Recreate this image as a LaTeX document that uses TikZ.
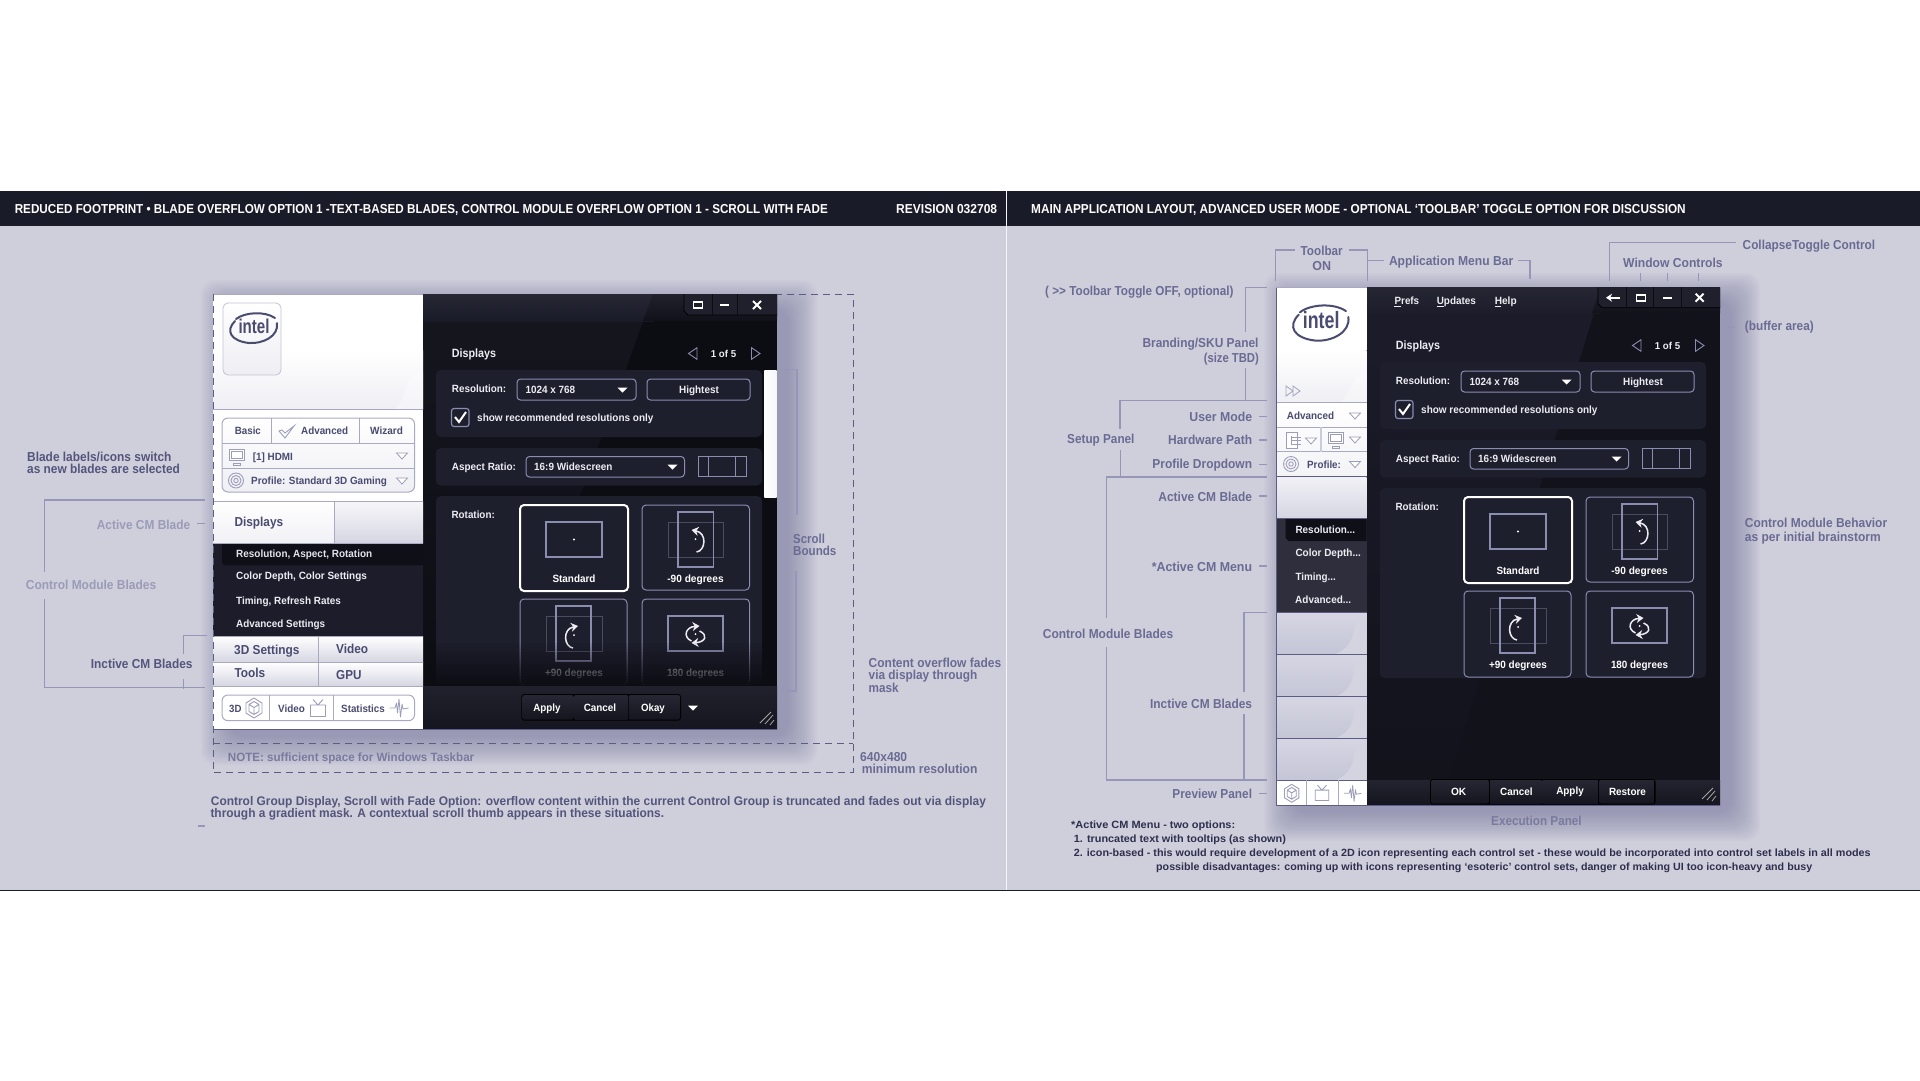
\documentclass[tikz,border=0pt]{standalone}
\usepackage{fontspec}
\usepackage{graphicx}
\setmainfont{Liberation Sans}
\usetikzlibrary{arrows.meta}
\definecolor{bg}{HTML}{CFCFDC}
\definecolor{band}{HTML}{1A1B28}
\definecolor{ann}{HTML}{6A6B93}
\definecolor{anndk}{HTML}{54557C}
\definecolor{annlt}{HTML}{9A9BB8}
\definecolor{lead}{HTML}{9596B8}
\definecolor{dashc}{HTML}{5C5D85}
\definecolor{uitx}{HTML}{4A4B70}
\definecolor{uiln}{HTML}{A9AAC2}
\definecolor{icon}{HTML}{9C9DB8}
\definecolor{groupc}{HTML}{1E1F2D}
\definecolor{ctl}{HTML}{8A8CB0}
\definecolor{lighttx}{HTML}{ECECF2}
\definecolor{notec}{HTML}{2E2F4E}
\definecolor{shad}{HTML}{6C6D96}
\definecolor{deep}{HTML}{0C0C13}
\definecolor{barhi}{HTML}{262733}
\definecolor{barlo}{HTML}{14151E}
\definecolor{ctlblk}{HTML}{1F202C}
\definecolor{bladetop}{HTML}{D6D6E3}
\definecolor{bladebot}{HTML}{C4C5D6}
\definecolor{bladehi}{HTML}{D4D4E1}
\definecolor{bodyl}{HTML}{16161F}
\definecolor{bodyr}{HTML}{12121B}
\definecolor{menuc}{HTML}{1C1C2B}
\definecolor{menusel}{HTML}{0F0F18}
\newsavebox\txtbox
\newcounter{tc}
\newcommand{\fw}[2]{\sbox\txtbox{#2}\pgfmathsetmacro\fwr{#1/\the\wd\txtbox}\scalebox{\fwr}[1]{\usebox\txtbox}}
\newcommand{\Lb}[7]{\stepcounter{tc}\node[anchor=#1,inner sep=0pt,text=#6,font=\fontsize{#5}{#5}\selectfont\bfseries] (t\arabic{tc}) at (#2,{#3+0.35*#5}) {\fw{#4}{#7}};}
\newcommand{\tridown}[2]{\draw[icon,line width=.8pt,fill=white] (#1-5.5,#2-3) -- (#1+5.5,#2-3) -- (#1,#2+3) -- cycle;}
\newcommand{\ddarrow}[2]{\fill[white] (#1-5,#2-2.5) -- (#1+5,#2-2.5) -- (#1,#2+2.5) -- cycle;}
\newcommand{\ringicon}[2]{\draw[icon,line width=.9pt] (#1,#2) circle[radius=7.5pt] (#1,#2) circle[radius=5pt] (#1,#2) circle[radius=2.2pt];}
\newcommand{\monicon}[2]{\draw[icon,line width=.9pt,fill=white] (#1-7.5,#2-8) rectangle (#1+7.5,#2+3);\draw[icon,line width=.9pt] (#1-5.5,#2-6) rectangle (#1+5.5,#2+1) (#1-3.5,#2+6) rectangle (#1+3.5,#2+8);}
\newcommand{\cubeicon}[2]{\draw[icon,line width=.9pt,line join=round] (#1,#2-10) -- (#1+8,#2-5) -- (#1+8,#2+5) -- (#1,#2+10) -- (#1-8,#2+5) -- (#1-8,#2-5) -- cycle (#1,#2-6.5) -- (#1+5,#2-3.5) -- (#1+5,#2+3.5) -- (#1,#2+6.5) -- (#1-5,#2+3.5) -- (#1-5,#2-3.5) -- cycle (#1-5,#2-3.5) -- (#1,#2-.5) -- (#1+5,#2-3.5) (#1,#2-.5) -- (#1,#2+6.5);}
\newcommand{\tvicon}[2]{\draw[icon,line width=.9pt,line join=round] (#1-7.5,#2-3.5) rectangle (#1+7.5,#2+8) (#1-5,#2-9) -- (#1,#2-3.5) -- (#1+5,#2-9);}
\newcommand{\waveicon}[2]{\draw[icon,line width=.8pt,line join=round] (#1-9.5,#2) -- (#1-4,#2) -- (#1-2.5,#2-5) -- (#1-1.5,#2+5) -- (#1,#2-9) -- (#1+1.5,#2+9) -- (#1+3,#2-4) -- (#1+4,#2+1) -- (#1+9.5,#2);}
\tikzset{
  groupbox/.style={fill=groupc,rounded corners=5pt},
  ctlbox/.style={draw=ctl,line width=1pt,rounded corners=3.5pt},
  tile/.style={draw=#1,line width=1pt,rounded corners=4pt},
  annline/.style={draw=lead,line width=1.3pt},
  dashline/.style={draw=dashc,line width=1pt,dash pattern=on 7pt off 5pt},
  swirl/.style={draw=lighttx,line width=1.5pt,-{Stealth[length=7pt,width=9pt]}},
}
\newcommand{\rotarrow}[2]{\begin{scope}[shift={(#1,#2)}]\draw[swirl] (1,13) .. controls (10,12) and (12,-6) .. (-4,-9);\fill[white] (0,0) circle[radius=1pt];\end{scope}}
\newcommand{\rotarrowm}[2]{\begin{scope}[shift={(#1,#2)},xscale=-1]\draw[swirl] (1,13) .. controls (10,12) and (12,-6) .. (-4,-9);\fill[white] (0,0) circle[radius=1pt];\end{scope}}
\newcommand{\rothalf}[2]{\begin{scope}[shift={(#1,#2)}]\draw[swirl] (-4,7) .. controls (-13,3) and (-10,-7) .. (4,-8);\draw[swirl] (4,-3) .. controls (13,1) and (10,8) .. (-4,9);\fill[white] (0,0) circle[radius=1pt];\end{scope}}
\newcommand{\intellogo}[3]{\begin{scope}[shift={(#1,#2)},scale=#3]
 \draw[uitx,line width=2pt,line cap=round] (-17,-8) .. controls (-8,-15) and (12,-16) .. (22,-9);
 \draw[uitx,line width=2pt,line cap=round] (-18,-6) .. controls (-28,4) and (-22,14) .. (-4,16) .. controls (10,17) and (26,9) .. (24,-4);
 \end{scope}
 \pgfmathsetmacro\logow{#3*31}\pgfmathsetmacro\logox{#1+#3}\pgfmathsetmacro\logoy{#2+6*#3}\pgfmathsetmacro\logof{#3*20}
 \stepcounter{tc}\node[inner sep=0pt,text=uitx,font=\fontsize{\logof}{\logof}\selectfont\bfseries,anchor=base] (t\arabic{tc}) at (\logox,\logoy) {\fw{\logow}{intel}};}
\newcommand{\grip}[2]{\draw[gray!70,line width=.8pt] (#1,#2+11) -- (#1+11,#2) (#1+5,#2+12) -- (#1+13,#2+3) (#1+10,#2+13) -- (#1+14,#2+8);}
\newcommand{\bladeface}[2]{\shade[top color=bladetop,bottom color=bladebot] (1276,#1) rectangle (1366.7,#2);
 \fill[bladehi] (1366.7,#1+7) -- (1355,#1+7) .. controls (1355,#1+24) and (1350,#2-6) .. (1336,#2) -- (1366.7,#2) -- cycle;}
% content shared by both windows: x offset, y offset, colour of the two lower tile labels
\newcommand{\winContent}[3]{\begin{scope}[shift={(#1,#2)}]
 \Lb{base west}{451.7}{353}{44.3}{12}{lighttx}{Displays}
 \Lb{base west}{710.7}{353.7}{25.3}{10}{lighttx}{1 of 5}
 \draw[ctl,line width=.9pt] (697,347.7) -- (688.5,353.5) -- (697,359.3) -- cycle (751.5,347.7) -- (760,353.5) -- (751.5,359.3) -- cycle;
 \fill[groupbox] (436,370) rectangle (762,437);
 \fill[groupbox] (436,448) rectangle (762,485.5);
 \fill[groupbox] (436,496) rectangle (762,686);
 \Lb{base west}{451.7}{388.7}{54.3}{10.5}{lighttx}{Resolution:}
 \draw[ctlbox] (517,379) rectangle (636,400);
 \Lb{base west}{525.3}{389.7}{49.7}{10.5}{lighttx}{1024 x 768}
 \ddarrow{622.5}{390}
 \draw[ctlbox] (647,379) rectangle (750,400);
 \Lb{base}{699}{389.7}{39.7}{10.5}{lighttx}{Hightest}
 \draw[draw=ctl,line width=1.2pt,rounded corners=2.5pt] (451.5,408.5) rectangle (469,426.5);
 \draw[white,line width=2pt] (455,417) -- (459,422) -- (466,412);
 \Lb{base west}{477}{417.7}{176.3}{10.5}{lighttx}{show recommended resolutions only}
 \Lb{base west}{451.7}{466.7}{64}{10.5}{lighttx}{Aspect Ratio:}
 \draw[ctlbox] (526,456.5) rectangle (684.5,477);
 \Lb{base west}{534}{466.7}{78.3}{10.5}{lighttx}{16:9 Widescreen}
 \ddarrow{672.5}{467}
 \draw[ctl,line width=1pt] (698,456) rectangle (746,476) (708.5,456) -- (708.5,476) (735.5,456) -- (735.5,476);
 \Lb{base west}{451.4}{514.7}{43.2}{10.5}{lighttx}{Rotation:}
 \draw[white,line width=2pt,rounded corners=4pt] (520,505) rectangle (628,591);
 \draw[ctl,line width=1.2pt] (546,522) rectangle (602,557);
 \fill[white] (574,539.5) circle[radius=1.1pt];
 \Lb{base}{574}{578.7}{42.9}{10.5}{white}{Standard}
 \draw[tile=ctl] (642,505) rectangle (749.5,590);
 \draw[ctl!40!groupc,line width=1pt] (668,522) rectangle (723.5,557);
 \draw[ctl,line width=1.2pt] (678,512) rectangle (713.5,567);
 \rotarrow{695.5}{539}
 \Lb{base}{695.5}{579}{56.3}{10.5}{white}{-90 degrees}
 \draw[tile=ctl] (520,599) rectangle (627,685);
 \draw[ctl!40!groupc,line width=1pt] (546,616) rectangle (602,651);
 \draw[ctl,line width=1.2pt] (556,606) rectangle (591,661);
 \rotarrowm{574}{635}
 \Lb{base}{574}{672.7}{57.8}{10.5}{#3}{+90 degrees}
 \draw[tile=ctl] (642,599) rectangle (749.5,685);
 \draw[ctl,line width=1.2pt] (668,616) rectangle (723,651);
 \rothalf{695.5}{634}
 \Lb{base}{695.5}{672.7}{57}{10.5}{#3}{180 degrees}
\end{scope}}
\begin{document}
\begin{tikzpicture}[x=1pt,y=-1pt]
\useasboundingbox (0,0) rectangle (1920,1080);
\fill[white] (0,0) rectangle (1920,1080);
% backdrop
\fill[bg] (0,226) rectangle (1920,890);
\fill[band] (0,191) rectangle (1920,226);
\draw[band,line width=1pt] (0,890.5) -- (1920,890.5);
% window shadows
\foreach \r in {28,26,...,0} {
 \fill[shad,fill opacity=.042,rounded corners=14pt] (213+16-\r,294+14-\r) rectangle (777+12+\r,729+8+\r);
 \fill[shad,fill opacity=.042,rounded corners=14pt] (1276+16-\r,287+14-\r) rectangle (1720+12+\r,805+8+\r);
}
\draw[white!80!bg,line width=1pt] (1006.8,191) -- (1006.8,890);
\Lb{base west}{14.6}{209}{813}{13}{white!95!bg}{REDUCED FOOTPRINT • BLADE OVERFLOW OPTION 1 -TEXT-BASED BLADES, CONTROL MODULE OVERFLOW OPTION 1 - SCROLL WITH FADE}
\Lb{base west}{896}{209}{101}{13}{white!95!bg}{REVISION 032708}
\Lb{base west}{1031}{209}{654.5}{13}{white!95!bg}{MAIN APPLICATION LAYOUT, ADVANCED USER MODE - OPTIONAL ‘TOOLBAR’ TOGGLE OPTION FOR DISCUSSION}
%%%%%%%%%%%%%% LEFT WINDOW: dark side
\fill[deep] (423,294) rectangle (777,729);
\shade[top color=bodyl,bottom color=deep] (423,294) -- (653,294) -- (496,729) -- (423,729) -- cycle;
\shade[top color=barhi,bottom color=band] (423,294) rectangle (653,321);
\shade[top color=barhi!80!deep,bottom color=deep!70!band] (653,294) -- (777,294) -- (777,321) -- (643,321) -- cycle;
\winContent{0}{0}{lighttx}
% fade of overflowing content
\foreach \i in {0,...,15} {
 \pgfmathsetmacro\o{\i/15}
 \fill[deep,fill opacity=\o] (424,640+3*\i) rectangle (763,643+3*\i);
}
% scroll thumb
\shade[left color=white,right color=white!92!ctl] (764.4,370) rectangle (776.7,497.5);
% title controls
\fill[ctlblk] (684,294) -- (777,294) -- (777,315) -- (688,315) -- (684,311) -- cycle;
\draw[black,line width=.9pt] (684,294) -- (684,311) -- (688,315) -- (777,315);
\draw[black!60!ctlblk,line width=.8pt] (712,294) -- (712,315) (737,294) -- (737,315);
\draw[white,line width=1.6pt] (693.5,302) rectangle (702.5,308);
\draw[white,line width=1.8pt] (720,305) -- (729,305);
\draw[white,line width=1.9pt] (753,301) -- (761,309) (761,301) -- (753,309);
% bottom bar
\shade[top color=barhi!80!deep,bottom color=barlo] (423,686.5) rectangle (777,729);
\fill[black,rounded corners=3pt] (521.4,694) rectangle (681,720.7);
\shade[top color=barhi,bottom color=barlo,rounded corners=2pt] (522.5,695) rectangle (573.5,719.7);
\shade[top color=barhi,bottom color=barlo] (574.5,695) rectangle (627.5,719.7);
\shade[top color=barhi,bottom color=barlo,rounded corners=2pt] (628.5,695) rectangle (680,719.7);
\Lb{base}{547}{708}{27.2}{10.5}{white}{Apply}
\Lb{base}{600}{708}{32.5}{10.5}{white}{Cancel}
\Lb{base}{653}{708}{23.7}{10.5}{white}{Okay}
\ddarrow{693}{708}
\grip{760}{712}
%%%%%%%%%%%%%% LEFT WINDOW: white side
\fill[white] (213,294) rectangle (423,350);
\shade[top color=white,bottom color=white!86!ctl] (213,350) rectangle (423,409);
\fill[white,opacity=.35] (423,372) .. controls (400,380) and (410,395) .. (395,409) -- (423,409) -- cycle;
\draw[uiln,line width=1pt] (213,294) -- (423,294);
\draw[uiln,line width=1pt] (213,409) -- (423,409);
\shade[top color=white,bottom color=white!85!ctl,rounded corners=5pt,draw=uiln!70!white,line width=.8pt] (223,303) rectangle (281,375);
\intellogo{253}{327}{1}
\fill[white] (213,409.5) rectangle (423,501);
\shade[top color=white,bottom color=white!86!ctl,rounded corners=6pt,draw=uiln,line width=1pt] (222,418) rectangle (414.5,492);
\draw[uiln,line width=1pt] (222,443) -- (414.5,443) (222,468) -- (414.5,468) (271.3,418) -- (271.3,443) (359.3,418) -- (359.3,443);
\Lb{base west}{234.7}{430.5}{26}{10.5}{uitx}{Basic}
\draw[icon,line width=.9pt] (279,431) -- (285,438) -- (294,426) -- (285,433) -- (282,430) -- cycle;
\Lb{base west}{301}{430.5}{47}{10.5}{uitx}{Advanced}
\Lb{base west}{370}{430.5}{32.7}{10.5}{uitx}{Wizard}
\monicon{237}{457}
\Lb{base west}{252.7}{456.7}{40}{10.5}{uitx}{[1] HDMI}
\tridown{402}{456}
\ringicon{236}{480.5}
\Lb{base west}{251}{480.7}{135.7}{10.5}{uitx}{Profile: Standard 3D Gaming}
\tridown{402}{481}
% blades
\shade[top color=white,bottom color=white!88!ctl] (213,501) rectangle (334,543);
\shade[top color=white!80!bladetop,bottom color=bladetop] (334,501) rectangle (423,543);
\draw[uiln,line width=1pt] (213,501) -- (423,501) (334,501) -- (334,543);
\draw[uiln,line width=1pt] (213,543) -- (423,543);
\Lb{base west}{234.3}{521.7}{48.7}{13}{uitx}{Displays}
% menu
\fill[menuc] (213,543.5) rectangle (423,636);
\fill[menusel,rounded corners=3pt] (222,540) rectangle (423,565);
\fill[bodyl] (400,543.5) rectangle (423,565);
\fill[menusel] (222,543.5) -- (423,543.5) -- (423,565) -- (225,565) -- (222,562) -- cycle;
\fill[white!88!ctl] (213,540) rectangle (334,543);
\fill[bladetop] (334,540) rectangle (423,543);
\draw[uiln,line width=1pt] (213,543) -- (423,543) (334,540) -- (334,543);
\Lb{base west}{236}{553.7}{136}{10.5}{lighttx!90!ctl}{Resolution, Aspect, Rotation}
\Lb{base west}{236}{575.7}{130.7}{10.5}{lighttx}{Color Depth, Color Settings}
\Lb{base west}{236}{600.7}{104.7}{10.5}{lighttx}{Timing, Refresh Rates}
\Lb{base west}{236}{623.7}{89}{10.5}{lighttx}{Advanced Settings}
\shade[top color=white,bottom color=bladetop] (213,636) rectangle (423,662);
\shade[top color=white,bottom color=bladetop] (213,662) rectangle (423,686);
\draw[uiln,line width=1pt] (213,636) -- (423,636) (213,662) -- (423,662) (213,686) -- (423,686) (318.3,636) -- (318.3,686);
\Lb{base west}{234}{649.5}{65.3}{13}{uitx}{3D Settings}
\Lb{base west}{336}{648.7}{32}{13}{uitx}{Video}
\Lb{base west}{234.3}{672.7}{30.7}{13}{uitx}{Tools}
\Lb{base west}{336}{674.7}{25.3}{13}{uitx}{GPU}
% preview
\fill[white] (213,686.5) rectangle (423,729);
\draw[uiln,line width=1pt,rounded corners=6pt] (222,695) rectangle (414.5,720.7);
\draw[uiln,line width=1pt] (269.7,695) -- (269.7,720.7) (333.5,695) -- (333.5,720.7);
\Lb{base west}{229}{708.7}{12.3}{10.5}{uitx}{3D}
\cubeicon{254}{708}
\Lb{base west}{278}{708.7}{26.7}{10.5}{uitx}{Video}
\tvicon{318}{708.5}
\Lb{base west}{341}{708.7}{43.7}{10.5}{uitx}{Statistics}
\waveicon{399}{708}
\draw[dashc,line width=1pt] (213,729) -- (777,729);
%%%%%%%%%%%%%% LEFT ANNOTATIONS
\draw[dashline] (213,294) -- (213,772.7) -- (853,772.7) -- (853,294) -- (777,294);
\draw[dashline] (213,743) -- (853,743);
\draw[annline] (205,500) -- (44.3,500) -- (44.3,571.7);
\draw[annline] (44.3,599) -- (44.3,687.7) -- (205,687.7);
\draw[annline] (197,523.7) -- (205,523.7);
\draw[annline] (207,635.3) -- (183.7,635.3) -- (183.7,654);
\draw[annline] (183.7,679.3) -- (183.7,689);
\draw[annline] (783,369.5) -- (797,369.5) -- (797,515);
\draw[annline] (796,571) -- (796,691) -- (781.6,691);
\draw[annline] (198,826) -- (205,826);
\Lb{base west}{27}{457}{144.3}{13}{anndk}{Blade labels/icons switch}
\Lb{base west}{27}{469}{152.7}{13}{anndk}{as new blades are selected}
\Lb{base west}{96.7}{524.7}{93.3}{13}{annlt}{Active CM Blade}
\Lb{base west}{25.7}{584.7}{130.3}{13}{annlt}{Control Module Blades}
\Lb{base west}{90.7}{663.7}{101.6}{13}{anndk}{Inctive CM Blades}
\Lb{base west}{793}{539}{31.8}{13}{ann}{Scroll}
\Lb{base west}{793}{551}{43.2}{13}{ann}{Bounds}
\Lb{base west}{868.5}{663}{132.5}{13}{ann}{Content overflow fades}
\Lb{base west}{868.5}{675}{108.7}{13}{ann}{via display through}
\Lb{base west}{868.5}{688}{30}{13}{ann}{mask}
\Lb{base west}{860}{756.7}{47}{13}{ann}{640x480}
\Lb{base west}{861.6}{769}{115.7}{13}{ann}{minimum resolution}
\Lb{base west}{227.7}{757.7}{246.3}{12}{ann!85!bg}{NOTE: sufficient space for Windows Taskbar}
\Lb{base west}{210.7}{801}{775}{12.5}{anndk}{Control Group Display, Scroll with Fade Option: overflow content within the current Control Group is truncated and fades out via display}
\Lb{base west}{210.3}{813}{453.7}{12.5}{anndk}{through a gradient mask. A contextual scroll thumb appears in these situations.}
%%%%%%%%%%%%%% RIGHT WINDOW: dark side
\fill[bodyr] (1366.7,287.3) rectangle (1720,805);
\shade[top color=menuc,bottom color=bodyr] (1366.7,287.3) -- (1602,287.3) -- (1441,805) -- (1366.7,805) -- cycle;
\shade[top color=barhi,bottom color=menuc] (1366.7,287.3) rectangle (1600,313.3);
\shade[top color=barhi!80!bodyr,bottom color=bodyr] (1600,287.3) -- (1720,287.3) -- (1720,313.3) -- (1592,313.3) -- cycle;
\winContent{944}{-8}{white}
% title controls
\fill[ctlblk] (1598,287.3) -- (1720,287.3) -- (1720,307.7) -- (1602,307.7) -- (1598,303.7) -- cycle;
\draw[black,line width=.9pt] (1598,287.3) -- (1598,303.7) -- (1602,307.7) -- (1720,307.7);
\draw[black!60!ctlblk,line width=.8pt] (1626.7,287.3) -- (1626.7,307.7) (1653.7,287.3) -- (1653.7,307.7) (1681,287.3) -- (1681,307.7);
\draw[white,line width=1.6pt,-{Stealth[length=6pt,width=8pt]}] (1620,297.7) -- (1606,297.7);
\draw[white,line width=1.6pt] (1636.3,294.7) rectangle (1645.3,300.7);
\draw[white,line width=1.8pt] (1663,297.7) -- (1672,297.7);
\draw[white,line width=1.9pt] (1695.6,293.7) -- (1703.6,301.7) (1703.6,293.7) -- (1695.6,301.7);
\Lb{base west}{1394.4}{300.7}{24.6}{10.5}{lighttx}{Prefs}
\Lb{base west}{1436.6}{300.7}{39.2}{10.5}{lighttx}{Updates}
\Lb{base west}{1494.6}{300.7}{21.9}{10.5}{lighttx}{Help}
\draw[lighttx,line width=.8pt] (1394.4,306.7) -- (1401,306.7) (1436.6,306.7) -- (1444,306.7) (1494.6,306.7) -- (1501,306.7);
% bottom bar
\shade[top color=barhi!80!barlo,bottom color=barlo] (1366.7,780) rectangle (1720,805);
\fill[black,rounded corners=3pt] (1430,779) rectangle (1655.6,804.5);
\shade[top color=barhi,bottom color=barlo,rounded corners=2pt] (1431,780) rectangle (1489,803.5);
\shade[top color=barhi,bottom color=barlo] (1490,780) rectangle (1541.5,803.5);
\shade[top color=barhi,bottom color=barlo] (1542.5,780) rectangle (1598,803.5);
\shade[top color=barhi,bottom color=barlo,rounded corners=2pt] (1599,780) rectangle (1654.6,803.5);
\Lb{base}{1458.6}{791.7}{15.2}{10.5}{white}{OK}
\Lb{base}{1516.4}{791.7}{32.5}{10.5}{white}{Cancel}
\Lb{base}{1570}{790.7}{27.5}{10.5}{white}{Apply}
\Lb{base}{1627.5}{791.7}{37}{10.5}{white}{Restore}
\grip{1702}{788}
%%%%%%%%%%%%%% RIGHT WINDOW: white side
\fill[white] (1276,287.3) rectangle (1366.7,350);
\shade[top color=white,bottom color=white!86!ctl] (1276,350) rectangle (1366.7,402.3);
\fill[white,opacity=.35] (1366.7,370) .. controls (1350,375) and (1355,390) .. (1340,402.3) -- (1366.7,402.3) -- cycle;
\intellogo{1320}{321.7}{1.18}
\draw[uiln,line width=.9pt] (1286,386) -- (1293,391) -- (1286,396) -- cycle (1293,386) -- (1300,391) -- (1293,396) -- cycle;
\shade[top color=white,bottom color=white!90!ctl] (1276,402.3) rectangle (1366.7,476.7);
\draw[uiln,line width=1pt] (1276,402.3) -- (1366.7,402.3) (1276,427.3) -- (1366.7,427.3) (1276,451.7) -- (1366.7,451.7);
\draw[uiln!60!white,line width=1.2pt] (1321,427.3) -- (1321,451.7);
\Lb{base west}{1286.7}{415.7}{47.3}{10.5}{uitx}{Advanced}
\tridown{1355}{416}
\draw[icon,line width=1pt,fill=white] (1286,432) rectangle (1297,448);
\draw[icon,line width=1pt] (1291,436) -- (1291,444) (1291,437) -- (1301,437) (1291,440.5) -- (1301,440.5) (1291,444) -- (1301,444);
\tridown{1311}{441}
\monicon{1336}{440}
\tridown{1355}{440}
\ringicon{1291}{464}
\Lb{base west}{1307}{464.7}{33.7}{10.5}{uitx}{Profile:}
\tridown{1355}{464.5}
\shade[top color=white!65!bladetop,bottom color=bladetop] (1276,477) rectangle (1366.7,518.3);
\fill[menuc!92!white] (1276,518.7) rectangle (1366.7,612.3);
\fill[menusel] (1285.7,518.7) -- (1366.7,518.7) -- (1366.7,541) -- (1288.7,541) -- (1285.7,538) -- cycle;
\Lb{base west}{1295.3}{529.7}{59.7}{10.5}{lighttx}{Resolution...}
\Lb{base west}{1295.3}{552.7}{65.3}{10.5}{lighttx}{Color Depth...}
\Lb{base west}{1295.3}{576.7}{40.3}{10.5}{lighttx}{Timing...}
\Lb{base west}{1295}{599.7}{56}{10.5}{lighttx}{Advanced...}
\bladeface{612.3}{654}
\bladeface{654}{696.7}
\bladeface{696.7}{738.3}
\bladeface{738.3}{780.3}
\fill[white] (1276,780.3) rectangle (1366.7,805);
\draw[dashc,line width=1pt] (1276,476.7) -- (1366.7,476.7) (1276,518.5) -- (1366.7,518.5) (1276,612.3) -- (1366.7,612.3) (1276,654) -- (1366.7,654) (1276,696.7) -- (1366.7,696.7) (1276,738.3) -- (1366.7,738.3) (1276,780.3) -- (1366.7,780.3);
\draw[uiln,line width=1pt] (1306.3,780.3) -- (1306.3,805) (1338.3,780.3) -- (1338.3,805);
\begin{scope}[shift={(1291.7,793.3)},scale=.9]\cubeicon{0}{0}\end{scope}
\begin{scope}[shift={(1322,793.3)},scale=.9]\tvicon{0}{0}\end{scope}
\begin{scope}[shift={(1352.7,793.3)},scale=.9]\waveicon{0}{0}\end{scope}
\draw[dashc,line width=1pt] (1276,287.3) -- (1276,805) -- (1720,805);
\draw[uiln,line width=1pt] (1276,287.3) -- (1366.7,287.3);
%%%%%%%%%%%%%% RIGHT ANNOTATIONS
\draw[annline] (1275.7,280.7) -- (1275.7,250) -- (1295,250);
\draw[annline] (1349,250) -- (1367.7,250) -- (1367.7,280.7);
\draw[annline] (1367.7,260.7) -- (1383.6,260.7);
\draw[annline] (1518,260.7) -- (1530,260.7) -- (1530,279);
\draw[annline] (1609.7,280.7) -- (1609.7,242.7) -- (1735.9,242.7);
\draw[annline] (1640.4,273) -- (1640.4,280.7) (1667.4,273) -- (1667.4,280.7) (1698.5,273) -- (1698.5,280.7);
\draw[annline] (1727,327) -- (1735,327);
\draw[annline] (1267,287.3) -- (1245.7,287.3) -- (1245.7,332);
\draw[annline] (1245.7,368.3) -- (1245.7,400.7);
\draw[annline] (1267,400.7) -- (1120,400.7) -- (1120,429.3);
\draw[annline] (1120.7,450) -- (1120.7,477);
\draw[annline] (1267,477) -- (1106.7,477) -- (1106.7,618.3);
\draw[annline] (1106.7,647.3) -- (1106.7,780) -- (1267,780);
\draw[annline] (1267,612.3) -- (1244,612.3) -- (1244,691.7);
\draw[annline] (1244,714) -- (1244,780);
\draw[annline] (1259.3,416.7) -- (1267,416.7) (1259.3,440) -- (1267,440) (1259.3,464.3) -- (1267,464.3) (1259.3,496) -- (1267,496) (1259.3,566) -- (1267,566) (1259.3,793.7) -- (1267,793.7);
\Lb{base}{1321.7}{250.7}{42}{13}{ann}{Toolbar}
\Lb{base}{1321.7}{265.7}{18.7}{13}{ann}{ON}
\Lb{base west}{1388.8}{260.7}{124.2}{13}{ann}{Application Menu Bar}
\Lb{base west}{1742.5}{244.7}{132.5}{13}{ann}{CollapseToggle Control}
\Lb{base west}{1623}{262.7}{99.5}{13}{ann}{Window Controls}
\Lb{base west}{1744.7}{326}{68.9}{13}{ann}{(buffer area)}
\Lb{base west}{1744.7}{522.7}{142.3}{13}{ann}{Control Module Behavior}
\Lb{base west}{1744.7}{536.7}{135.8}{13}{ann}{as per initial brainstorm}
\Lb{base west}{1045}{290.7}{188.3}{13}{ann}{( >{}> Toolbar Toggle OFF, optional)}
\Lb{base east}{1258.7}{342.7}{116}{13}{ann}{Branding/SKU Panel}
\Lb{base east}{1259}{357.7}{55}{13}{ann}{(size TBD)}
\Lb{base east}{1252.3}{416.7}{62.7}{13}{ann}{User Mode}
\Lb{base east}{1252.3}{440}{84}{13}{ann}{Hardware Path}
\Lb{base east}{1252.3}{463.7}{99.7}{13}{ann}{Profile Dropdown}
\Lb{base east}{1252.3}{496.7}{93.7}{13}{ann}{Active CM Blade}
\Lb{base east}{1252.3}{566.7}{100.3}{13}{ann}{*Active CM Menu}
\Lb{base east}{1252.3}{703.7}{102}{13}{ann}{Inctive CM Blades}
\Lb{base east}{1252.3}{793.7}{79.7}{13}{ann}{Preview Panel}
\Lb{base west}{1067}{438.7}{67.3}{13}{ann}{Setup Panel}
\Lb{base west}{1042.7}{633.7}{130.3}{13}{ann}{Control Module Blades}
\Lb{base west}{1491}{821}{90.5}{13}{ann!85!bg}{Execution Panel}
\Lb{base west}{1071}{825}{164}{10.5}{notec}{*Active CM Menu - two options:}
\Lb{base west}{1073.7}{839.3}{212}{10.5}{notec}{1. truncated text with tooltips (as shown)}
\Lb{base west}{1073.7}{853.3}{796.8}{10.5}{notec}{2. icon-based - this would require development of a 2D icon representing each control set - these would be incorporated into control set labels in all modes}
\Lb{base west}{1156}{867.3}{656}{10.5}{notec}{possible disadvantages: coming up with icons representing ‘esoteric’ control sets, danger of making UI too icon-heavy and busy}
\end{tikzpicture}
\end{document}
